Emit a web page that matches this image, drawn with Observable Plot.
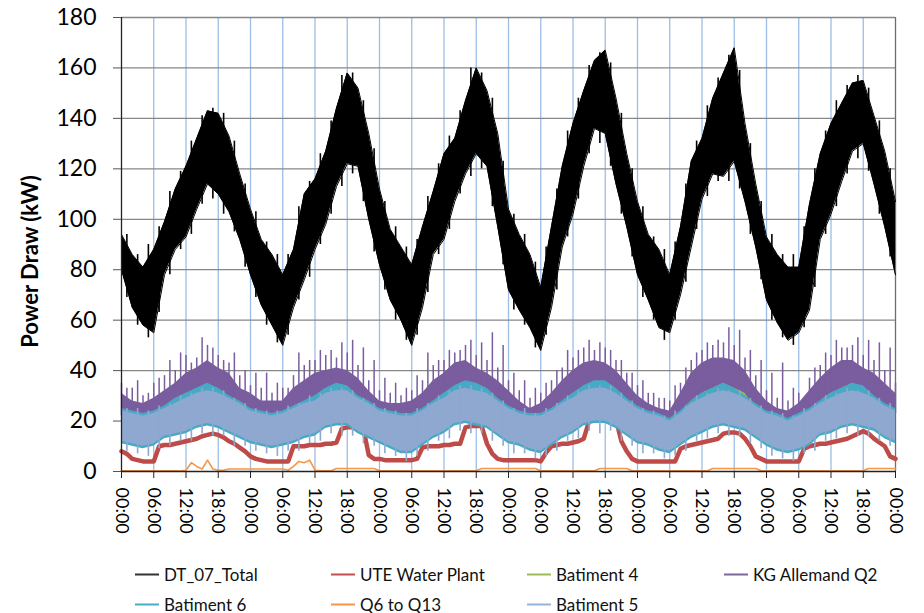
<!DOCTYPE html>
<html><head><meta charset="utf-8">
<script src="https://cdn.jsdelivr.net/npm/d3@7"></script>
<script src="https://cdn.jsdelivr.net/npm/@observablehq/plot@0.6"></script>
<style>
body{margin:0;background:#fff;font-family:Lato,"Open Sans",sans-serif;}
#chart{width:924px;height:550px;}
#legend{position:relative;width:924px;height:63px;font-size:17px;color:#111;}
.item{position:absolute;display:flex;align-items:center;white-space:nowrap;transform:translateY(-50%);}
.sw{display:inline-block;width:24px;height:2px;margin-right:5px;}
</style></head><body>
<div id="chart"></div><div id="legend"></div>
<script>
// ---- data (2-hour samples, t = 0,2,...,144 h) ----
const blackHi = [94,86,81,88,99,112,121,132,143,142,133,118,
 104,92,86,78,88,110,116,127,144,158,152,134,
 112,96,89,82,97,111,126,132,147,160,151,134,
 104,94,86,73,97,121,138,151,163,167,148,126,
 107,94,88,78,97,123,132,148,158,168,138,114,
 93,86,81,81,106,126,138,146,154,155,141,127,
 107];
const blackLo = [80,65,58,55,78,88,93,104,114,110,103,92,
 78,66,58,50,65,76,88,98,113,122,121,100,
 82,68,60,50,65,86,92,107,118,126,121,97,
 72,64,57,48,65,89,102,121,136,134,114,97,
 78,68,57,55,70,89,108,118,117,123,107,89,
 68,59,52,55,64,92,102,115,127,130,114,97,
 78];
// DT_07_Total spikes at odd hours t = 1,3,...,143
const blackUp = [94,86,90,97,111,119,131,141,144,142,131,114,
 103,91,86,86,105,115,126,139,157,158,147,128,
 107,97,89,92,109,122,133,143,160,158,148,123,
 102,94,83,89,112,135,148,161,166,162,142,120,
 105,93,88,91,114,131,145,156,165,159,130,107,
 94,86,86,97,120,135,147,153,157,152,139,120];
const blackDip = [69,58,53,63,78,88,94,106,108,102,95,81,
 69,58,51,54,68,77,90,102,113,118,107,87,
 72,60,52,54,71,86,96,110,117,120,105,82,
 64,58,49,54,72,93,108,126,130,121,102,85,
 69,60,52,60,75,96,109,115,115,112,94,76,
 60,53,50,57,73,94,105,118,124,119,102,85];
const purpleHi = [31,28,27,29,32,35,39,41,44,41,39,33,
 31,28,28,28,33,36,39,40,41,40,37,32,
 28,27,27,28,31,36,39,43,44,41,39,36,
 32,28,25,27,31,36,40,43,44,43,40,35,
 30,27,25,24,31,39,43,45,45,44,40,33,
 28,25,24,27,32,37,41,44,44,41,39,35,
 31];
const purpleLo = [22,20,20,22,23,25,28,31,32,31,28,24,
 22,20,19,20,24,27,28,29,31,31,28,24,
 22,20,19,20,23,27,28,32,33,32,29,27,
 24,22,19,19,23,27,29,32,33,33,29,25,
 22,20,19,18,23,28,31,33,35,33,31,25,
 22,19,18,19,24,28,31,33,35,32,28,25,
 23];
// KG Allemand Q2 spikes: odd hours (tall) and even hours (short)
const purplePeak = [33,36,31,37,44,47,43,53,49,44,47,40,
 39,39,35,33,47,44,48,48,51,52,49,44,
 37,35,33,38,47,44,48,48,52,51,55,50,
 39,36,33,35,40,48,48,52,51,48,44,39,
 36,31,29,34,41,47,51,52,57,56,48,44,
 39,43,33,29,41,47,52,49,53,52,51,49];
const purplePeak2 = [35,33,30,35,38,40,46,45,50,46,43,38,
 34,33,31,33,38,42,44,46,45,47,42,36,
 32,31,30,32,36,42,44,47,50,46,44,41,
 36,32,29,31,36,41,45,49,48,49,44,39,
 34,31,29,28,35,44,48,50,51,50,45,38,
 32,29,28,31,37,42,46,49,50,46,44,40,
 35];
const bat5Hi = [24,23,22,23,25,27,29,31,32,31,29,27,
 24,23,22,23,25,27,28,31,32,32,29,27,
 24,23,22,22,24,27,29,32,33,32,31,28,
 25,23,22,22,24,27,29,32,33,33,31,28,
 25,23,22,20,23,27,29,31,32,31,29,26,
 23,22,20,22,24,27,29,31,32,31,29,26,
 24];
const bat5Lo = [12,11,10,11,14,15,16,18,19,18,16,14,
 12,11,10,11,12,14,15,18,19,19,16,14,
 12,10,8,8,11,14,16,19,20,19,18,15,
 12,11,9,8,11,14,16,19,20,20,18,15,
 12,11,9,8,11,14,16,18,19,18,17,14,
 11,9,8,9,11,15,16,18,19,18,17,14,
 12];
// Batiment 5 spikes at odd hours
const bat5Peak = [25,25,24,26,27,30,31,33,33,32,29,27,
 25,24,24,26,27,30,31,33,33,32,29,27,
 25,24,23,25,27,30,32,34,34,33,31,28,
 25,25,23,25,27,30,32,34,34,34,31,28,
 25,24,22,24,26,30,31,33,32,32,29,26,
 24,23,22,25,27,30,31,33,32,32,29,27];
const bat5Dip = [8,7,6,9,10,12,12,15,14,14,10,10,
 8,7,6,8,8,11,12,15,14,14,11,10,
 7,6,4,6,8,12,13,16,15,15,12,10,
 7,7,5,6,8,12,13,16,15,16,12,10,
 7,7,5,6,8,12,13,15,14,14,11,9,
 6,5,4,7,8,12,13,15,14,14,12,10];
const bat6Hi = [25,24,23,24,26,29,31,33,35,33,30,28,
 25,24,23,24,26,28,30,33,35,34,30,28,
 25,24,23,23,25,28,31,34,36,35,33,29,
 26,24,23,23,25,28,31,34,36,36,33,29,
 26,24,23,21,24,28,31,33,35,33,30,27,
 24,23,21,23,25,28,31,33,35,34,30,27,
 25];
const bat6Lo = [11,10,9,10,13,14,15,17,18,17,15,13,
 11,10,9,10,11,13,14,17,18,18,15,13,
 11,9,7,7,10,13,15,18,19,18,17,14,
 11,10,8,7,10,13,15,18,19,19,17,14,
 11,10,8,7,10,13,15,17,18,17,16,13,
 10,8,7,8,10,14,15,17,18,17,16,13,
 11];
const bat4Hi = [27,26,25,26,29,32,34,36,37,35,33,30,
 27,26,25,26,28,31,33,36,37,36,33,30,
 27,26,25,25,27,31,34,37,38,37,35,31,
 28,26,25,25,27,31,34,37,38,38,35,31,
 28,26,25,23,26,31,34,36,37,35,33,29,
 26,25,23,25,27,31,34,36,37,36,33,29,
 27];
const bat4Lo = [13,12,11,12,15,16,17,19,20,19,17,15,
 13,12,11,12,13,15,16,19,20,20,17,15,
 13,11,9,9,12,15,17,20,21,20,19,16,
 13,12,10,9,12,15,17,20,21,21,19,16,
 13,12,10,9,12,15,17,19,20,19,18,15,
 12,10,9,10,12,16,17,19,20,19,18,15,
 13];
// hourly samples t = 0..144
const uteWater = [8,7,5,4.5,4,4,4,10,10.5,10.5,11,11.5,12,12.5,13,14,14.5,15,14.5,13.5,12,11,9.5,8,
 6,5,4.5,4,4,4,4,4,10,10,10,10.5,10.5,10.5,11,11,11.5,17,17.5,17.5,17.5,17,6.5,5,
 5,4.5,4.5,4.5,4.5,4.5,4.5,5,9.5,10,10,10,10.5,10.5,11,11,17.5,18,18,18,11,7,5,4.5,
 4.5,4.5,4.5,4.5,4.5,4.5,4,7.5,10,10.5,11,11,11.5,12,13,20,21,21,21,21,20.5,12,8,5,
 4,4,4,4,4,4,4,4,9,10,10.5,11,11.5,12,12.5,13,15,15.5,15.5,15,13,10,6,5,
 4,4,4,4,4,4,4,9,10,10.5,11,11,11.5,12,12.5,13,14,15,16,15,13,11.5,10,6,
 5];
const q6q13 = [0.3,0.3,0.3,0.3,0.3,0.3,0.3,0.3,0.3,0.3,0.3,0.3,0.5,3.5,2,1,4.5,1,0.5,0.5,1,1,1,1,
 1,1,1,1,1,1,1,0.5,2,4,3.5,4.5,0.5,0.3,0.3,0.3,1.2,1.2,1.2,1.2,1.2,1.2,1.2,1.2,
 0.3,0.3,0.3,0.3,0.3,0.3,0.3,0.3,0.3,0.3,0.3,0.3,0.3,0.3,0.3,0.3,0.3,0.3,0.3,1.2,1.2,1.2,1.2,1.2,
 1.2,1.2,1.2,1.2,1.2,1.2,0.3,0.3,0.3,0.3,0.3,0.3,0.3,0.3,0.3,0.3,0.3,1.2,1.2,1.2,1.2,1.2,1.2,0.3,
 0.3,0.3,0.3,0.3,0.3,0.3,0.3,0.3,0.3,0.3,0.3,0.3,0.3,0.3,1.2,1.2,1.2,1.2,1.2,1.2,1.2,1.2,1.2,0.3,
 0.3,0.3,0.3,0.3,0.3,0.3,0.3,0.3,0.3,0.3,0.3,0.3,0.3,0.3,0.3,0.3,0.3,0.3,0.3,1.2,1.2,1.2,1.2,1.2,
 1.2];
const xTickLabels = ["00:00","06:00","12:00","18:00"];
const yTicks = [0,20,40,60,80,100,120,140,160,180];
const seriesNames = ["DT_07_Total","UTE Water Plant","Batiment 4","KG Allemand Q2","Batiment 6","Q6 to Q13","Batiment 5"];
const seriesColors = ["#000000","#be4b48","#98b954","#7a5d9e","#46aac5","#f79646","#8ea8d0"];
const legendColors = ["#333333","#c0504d","#9bbb59","#8064a2","#4bacc6","#f79646","#95b3d7"];

// ---- tables ----
const band = (lo, hi) => lo.map((l, i) => ({t: i * 2, lo: l, hi: hi[i]}));
const oddBand = (lo, hi) => lo.map((l, i) => ({t: i * 2 + 1, lo: l, hi: hi[i]}));
const hourly = arr => arr.map((v, i) => ({t: i, v}));
const blackData = band(blackLo, blackHi);
const blackSpikes = oddBand(blackDip, blackUp);
const purpleData = band(purpleLo, purpleHi);
const purpleSpikes = oddBand(purpleLo.slice(0, 72), purplePeak);
const purpleSpikes2 = band(purpleLo, purplePeak2);
const bat5Data = band(bat5Lo, bat5Hi);
const bat5Spikes = oddBand(bat5Dip, bat5Peak);
const bat6Data = band(bat6Lo, bat6Hi);
const bat4Data = band(bat4Lo, bat4Hi);
const uteData = hourly(uteWater);
const q6Data = hourly(q6q13);
const xTicks = d3.range(0, 145, 6);

const chart = Plot.plot({
  width: 924, height: 550,
  marginTop: 17, marginBottom: 79, marginLeft: 121, marginRight: 29,
  x: {domain: [0, 144]},
  y: {domain: [0, 180]},
  style: {fontFamily: "Lato, 'Open Sans', sans-serif", background: "white", color: "#000"},
  marks: [
    Plot.ruleX(xTicks.filter(d => d > 0 && d < 144), {stroke: "#9cbde6", strokeWidth: 1.3}),
    Plot.ruleY(yTicks.filter(d => d > 0), {stroke: "#878787", strokeWidth: 1.3}),
    Plot.ruleX([144], {stroke: "#6e6e6e", strokeWidth: 1.3}),
    // DT_07_Total
    Plot.areaY(blackData, {x: "t", y1: "lo", y2: "hi", fill: seriesColors[0]}),
    Plot.lineY(blackData, {x: "t", y: "hi", stroke: seriesColors[0], strokeWidth: 1}),
    Plot.lineY(blackData, {x: "t", y: "lo", stroke: seriesColors[0], strokeWidth: 1}),
    Plot.ruleX(blackSpikes, {x: "t", y1: "lo", y2: "hi", stroke: seriesColors[0], strokeWidth: 1.6}),
    // UTE Water Plant
    Plot.lineY(uteData, {x: "t", y: "v", stroke: seriesColors[1], strokeWidth: 4.5}),
    // Batiment 4
    Plot.areaY(bat4Data, {x: "t", y1: "lo", y2: "hi", fill: seriesColors[2]}),
    // KG Allemand Q2
    Plot.areaY(purpleData, {x: "t", y1: "lo", y2: "hi", fill: seriesColors[3]}),
    Plot.ruleX(purpleSpikes, {x: "t", y1: "lo", y2: "hi", stroke: seriesColors[3], strokeWidth: 1.5}),
    Plot.ruleX(purpleSpikes2, {x: "t", y1: "lo", y2: "hi", stroke: seriesColors[3], strokeWidth: 1.5}),
    // Batiment 6
    Plot.areaY(bat6Data, {x: "t", y1: "lo", y2: "hi", fill: seriesColors[4]}),
    // Q6 to Q13
    Plot.lineY(q6Data, {x: "t", y: "v", stroke: seriesColors[5], strokeWidth: 1.6}),
    // Batiment 5
    Plot.areaY(bat5Data, {x: "t", y1: "lo", y2: "hi", fill: seriesColors[6]}),
    Plot.ruleX(bat5Spikes, {x: "t", y1: "lo", y2: "hi", stroke: seriesColors[6], strokeWidth: 1.6}),
    // axes
    Plot.ruleX([0], {stroke: "#222", strokeWidth: 1.3}),
    Plot.ruleY([0], {stroke: "#222", strokeWidth: 1.3}),
    Plot.axisY(yTicks, {tickSize: 8, tickPadding: 17, fontSize: 23, label: null, stroke: "#555"}),
    Plot.axisX(xTicks, {tickFormat: d => xTickLabels[(d / 6) % 4], tickRotate: 90, tickSize: 7, tickPadding: 9, fontSize: 18, label: null, stroke: "#222"}),
    Plot.text(["Power Draw (kW)"], {frameAnchor: "left", textAnchor: "middle", dx: -91, dy: 17, rotate: -90, fontSize: 22, fontWeight: "bold", fill: "#000"})
  ]
});
document.getElementById("chart").appendChild(chart);

// ---- legend ----
const legendCols = [135, 331, 527, 724];
const legendRows = [24, 54];
const leg = document.getElementById("legend");
seriesNames.forEach((name, k) => {
  const div = document.createElement("div");
  div.className = "item";
  div.style.left = legendCols[k % 4] + "px";
  div.style.top = legendRows[Math.floor(k / 4)] + "px";
  div.innerHTML = `<span class="sw" style="background:${legendColors[k]}"></span><span>${name}</span>`;
  leg.appendChild(div);
});
</script>
</body></html>
